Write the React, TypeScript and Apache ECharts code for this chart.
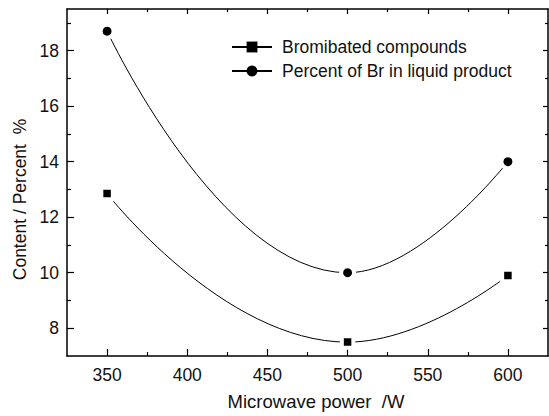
import React, { useEffect, useRef } from 'react';
import * as echarts from 'echarts';

const powers = [350, 500, 600];
const bromibated = [12.85, 7.5, 9.9];
const percentBr = [18.7, 10.0, 14.0];
const seriesNames = ['Bromibated compounds', 'Percent of Br in liquid product'];
const xMajorTicks = [350, 400, 450, 500, 550, 600];
const xMinorTicks = [375, 425, 475, 525, 575];
const yMajorTicks = [8, 10, 12, 14, 16, 18];
const yMinorTicks = [9, 11, 13, 15, 17, 19];
const xTitle = 'Microwave power  /W';
const yTitle = 'Content / Percent  %';

const FONT = '"Liberation Sans", Arial, sans-serif';
const X_MIN = 325, X_MAX = 625, Y_MIN = 7, Y_MAX = 19.5;

function axisBase(kind: 'x' | 'y', position: string, ticks: number[], len: number, withLine: boolean, withLabels: boolean, extra: any = {}) {
  return {
    type: 'value',
    position,
    min: kind === 'x' ? X_MIN : Y_MIN,
    max: kind === 'x' ? X_MAX : Y_MAX,
    splitLine: { show: false },
    axisLine: { show: withLine, onZero: false, lineStyle: { color: '#000', width: 1.5 } },
    axisTick: { show: true, inside: true, length: len, customValues: ticks, lineStyle: { color: '#000', width: 1.2 } },
    axisLabel: withLabels
      ? { show: true, customValues: ticks, margin: kind === 'x' ? 10 : 8, color: '#111', fontSize: 17.5, fontFamily: FONT }
      : { show: false },
    ...extra,
  };
}

export default function App() {
  const ref = useRef<HTMLDivElement>(null);
  useEffect(() => {
    if (!ref.current) return;
    const chart = echarts.init(ref.current, undefined, { renderer: 'svg' });
    const lineData = (vals: number[]) => powers.map((p, i) => [p, vals[i]]);
    chart.setOption({
      animation: false,
      backgroundColor: '#fff',
      grid: { left: 67, right: 1, top: 9, bottom: 56 },
      legend: {
        orient: 'vertical',
        left: 231,
        top: 38,
        padding: 0,
        itemGap: 6,
        itemWidth: 40,
        itemHeight: 13.5,
        selectedMode: false,
        itemStyle: { borderWidth: 0 },
        textStyle: { color: '#111', fontSize: 17.5, fontFamily: FONT, padding: [0, 0, 0, 5] },
        data: seriesNames,
      },
      xAxis: [
        axisBase('x', 'bottom', xMajorTicks, 7, true, true, {
          name: xTitle,
          nameLocation: 'middle',
          nameGap: 36,
          nameTextStyle: { color: '#111', fontSize: 18.5, fontFamily: FONT, padding: [0, 0, 0, 17] },
        }),
        axisBase('x', 'bottom', xMinorTicks, 4, false, false),
        axisBase('x', 'top', xMajorTicks, 5, true, false),
        axisBase('x', 'top', xMinorTicks, 3, false, false),
      ],
      yAxis: [
        axisBase('y', 'left', yMajorTicks, 7, true, true, {
          name: yTitle,
          nameLocation: 'middle',
          nameGap: 37,
          nameTextStyle: { color: '#111', fontSize: 17.5, fontFamily: FONT, padding: [0, 34, 0, 0] },
        }),
        axisBase('y', 'left', yMinorTicks, 4, false, false),
        axisBase('y', 'right', yMajorTicks, 5, true, false),
        axisBase('y', 'right', yMinorTicks, 3, false, false),
      ],
      series: [
        {
          name: seriesNames[0],
          type: 'line',
          data: lineData(bromibated),
          smooth: true,
          symbol: 'rect',
          symbolSize: 11.5,
          lineStyle: { color: '#000', width: 1 },
          itemStyle: { color: '#000', borderColor: '#fff', borderWidth: 4 },
          xAxisIndex: 0,
          yAxisIndex: 0,
        },
        {
          name: seriesNames[1],
          type: 'line',
          data: lineData(percentBr),
          smooth: true,
          symbol: 'circle',
          symbolSize: 13,
          lineStyle: { color: '#000', width: 1 },
          itemStyle: { color: '#000', borderColor: '#fff', borderWidth: 4 },
          xAxisIndex: 0,
          yAxisIndex: 0,
        },
      ],
    });
    return () => chart.dispose();
  }, []);
  return <div ref={ref} style={{ width: 549, height: 416, position: 'absolute', left: 0, top: 0 }} />;
}
